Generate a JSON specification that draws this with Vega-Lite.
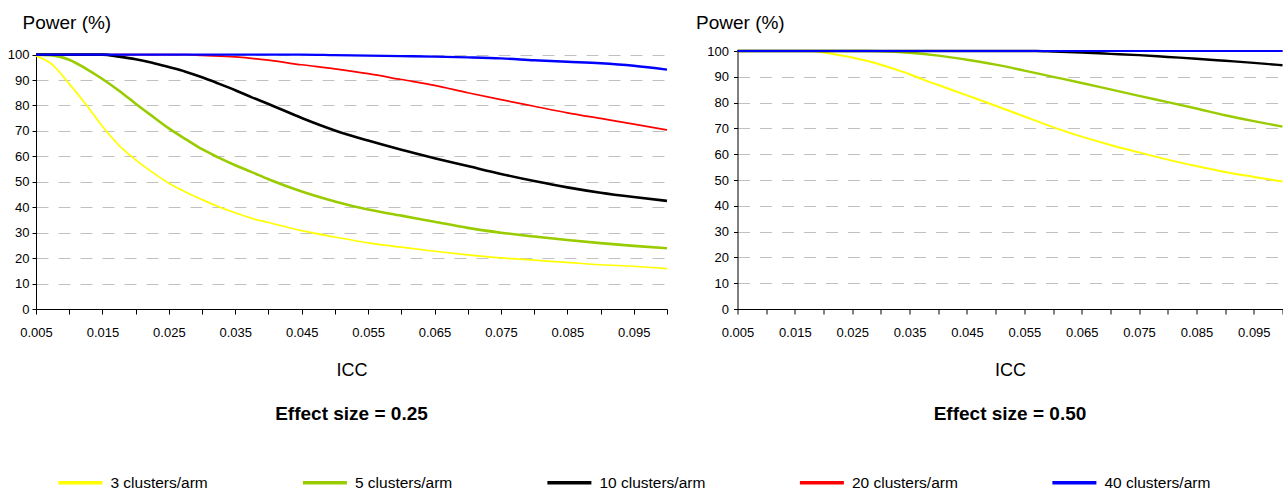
{
  "$schema": "https://vega.github.io/schema/vega-lite/v6.json",
  "background": "white",
  "padding": {"left": 7, "top": 13, "right": 0, "bottom": 0},
  "config": {
    "view": {"stroke": null},
    "font": "Liberation Sans",
    "axis": {"domainColor": "#000000", "tickColor": "#000000", "labelColor": "#000000", "titleColor": "#000000", "labelFont": "Liberation Sans", "titleFont": "Liberation Sans", "titleFontWeight": "normal", "labelFontSize": 13, "domainWidth": 1, "tickWidth": 1, "labelOverlap": false, "labelFlush": false},
    "axisX": {"grid": false, "tickSize": 5, "labelPadding": 12, "titleFontSize": 18, "titlePadding": 22, "labelDx": 3},
    "axisY": {"grid": true, "gridColor": "#c0c0c0", "gridDash": [12, 10], "gridWidth": 1, "tickSize": 4, "labelPadding": 3, "titleFontSize": 19},
    "title": {"fontSize": 19, "fontWeight": "bold", "font": "Liberation Sans", "color": "#000000"}
  },
  "data": {"values": [
    {"effect": "0.25", "series": "3 clusters/arm", "icc": 0.005, "power": 99.5},
    {"effect": "0.25", "series": "3 clusters/arm", "icc": 0.0075, "power": 96},
    {"effect": "0.25", "series": "3 clusters/arm", "icc": 0.01, "power": 88.5},
    {"effect": "0.25", "series": "3 clusters/arm", "icc": 0.0125, "power": 80.5},
    {"effect": "0.25", "series": "3 clusters/arm", "icc": 0.015, "power": 71.8},
    {"effect": "0.25", "series": "3 clusters/arm", "icc": 0.0175, "power": 64.3},
    {"effect": "0.25", "series": "3 clusters/arm", "icc": 0.02, "power": 58.6},
    {"effect": "0.25", "series": "3 clusters/arm", "icc": 0.0225, "power": 53.8},
    {"effect": "0.25", "series": "3 clusters/arm", "icc": 0.025, "power": 49.4},
    {"effect": "0.25", "series": "3 clusters/arm", "icc": 0.0275, "power": 46},
    {"effect": "0.25", "series": "3 clusters/arm", "icc": 0.03, "power": 43},
    {"effect": "0.25", "series": "3 clusters/arm", "icc": 0.0325, "power": 40.2},
    {"effect": "0.25", "series": "3 clusters/arm", "icc": 0.035, "power": 37.8},
    {"effect": "0.25", "series": "3 clusters/arm", "icc": 0.0375, "power": 35.6},
    {"effect": "0.25", "series": "3 clusters/arm", "icc": 0.04, "power": 34},
    {"effect": "0.25", "series": "3 clusters/arm", "icc": 0.045, "power": 30.8},
    {"effect": "0.25", "series": "3 clusters/arm", "icc": 0.05, "power": 28.3},
    {"effect": "0.25", "series": "3 clusters/arm", "icc": 0.055, "power": 26},
    {"effect": "0.25", "series": "3 clusters/arm", "icc": 0.06, "power": 24.3},
    {"effect": "0.25", "series": "3 clusters/arm", "icc": 0.065, "power": 22.7},
    {"effect": "0.25", "series": "3 clusters/arm", "icc": 0.07, "power": 21.3},
    {"effect": "0.25", "series": "3 clusters/arm", "icc": 0.075, "power": 20.1},
    {"effect": "0.25", "series": "3 clusters/arm", "icc": 0.08, "power": 19.2},
    {"effect": "0.25", "series": "3 clusters/arm", "icc": 0.085, "power": 18.3},
    {"effect": "0.25", "series": "3 clusters/arm", "icc": 0.09, "power": 17.4},
    {"effect": "0.25", "series": "3 clusters/arm", "icc": 0.095, "power": 16.8},
    {"effect": "0.25", "series": "3 clusters/arm", "icc": 0.1, "power": 15.9},
    {"effect": "0.25", "series": "5 clusters/arm", "icc": 0.005, "power": 100},
    {"effect": "0.25", "series": "5 clusters/arm", "icc": 0.0075, "power": 99.7},
    {"effect": "0.25", "series": "5 clusters/arm", "icc": 0.01, "power": 98},
    {"effect": "0.25", "series": "5 clusters/arm", "icc": 0.0125, "power": 94.5},
    {"effect": "0.25", "series": "5 clusters/arm", "icc": 0.015, "power": 90.4},
    {"effect": "0.25", "series": "5 clusters/arm", "icc": 0.0175, "power": 85.8},
    {"effect": "0.25", "series": "5 clusters/arm", "icc": 0.02, "power": 80.7},
    {"effect": "0.25", "series": "5 clusters/arm", "icc": 0.0225, "power": 75.8},
    {"effect": "0.25", "series": "5 clusters/arm", "icc": 0.025, "power": 71},
    {"effect": "0.25", "series": "5 clusters/arm", "icc": 0.0275, "power": 66.8},
    {"effect": "0.25", "series": "5 clusters/arm", "icc": 0.03, "power": 62.8},
    {"effect": "0.25", "series": "5 clusters/arm", "icc": 0.0325, "power": 59.5},
    {"effect": "0.25", "series": "5 clusters/arm", "icc": 0.035, "power": 56.5},
    {"effect": "0.25", "series": "5 clusters/arm", "icc": 0.0375, "power": 53.8},
    {"effect": "0.25", "series": "5 clusters/arm", "icc": 0.04, "power": 51},
    {"effect": "0.25", "series": "5 clusters/arm", "icc": 0.045, "power": 46.2},
    {"effect": "0.25", "series": "5 clusters/arm", "icc": 0.05, "power": 42.3},
    {"effect": "0.25", "series": "5 clusters/arm", "icc": 0.055, "power": 39.1},
    {"effect": "0.25", "series": "5 clusters/arm", "icc": 0.06, "power": 36.7},
    {"effect": "0.25", "series": "5 clusters/arm", "icc": 0.065, "power": 34.3},
    {"effect": "0.25", "series": "5 clusters/arm", "icc": 0.07, "power": 31.9},
    {"effect": "0.25", "series": "5 clusters/arm", "icc": 0.075, "power": 30},
    {"effect": "0.25", "series": "5 clusters/arm", "icc": 0.08, "power": 28.5},
    {"effect": "0.25", "series": "5 clusters/arm", "icc": 0.085, "power": 27.1},
    {"effect": "0.25", "series": "5 clusters/arm", "icc": 0.09, "power": 25.9},
    {"effect": "0.25", "series": "5 clusters/arm", "icc": 0.095, "power": 24.8},
    {"effect": "0.25", "series": "5 clusters/arm", "icc": 0.1, "power": 23.9},
    {"effect": "0.25", "series": "10 clusters/arm", "icc": 0.005, "power": 100},
    {"effect": "0.25", "series": "10 clusters/arm", "icc": 0.015, "power": 100},
    {"effect": "0.25", "series": "10 clusters/arm", "icc": 0.0175, "power": 99.2},
    {"effect": "0.25", "series": "10 clusters/arm", "icc": 0.02, "power": 98.2},
    {"effect": "0.25", "series": "10 clusters/arm", "icc": 0.0225, "power": 96.8},
    {"effect": "0.25", "series": "10 clusters/arm", "icc": 0.025, "power": 95.1},
    {"effect": "0.25", "series": "10 clusters/arm", "icc": 0.0275, "power": 93.3},
    {"effect": "0.25", "series": "10 clusters/arm", "icc": 0.03, "power": 91.1},
    {"effect": "0.25", "series": "10 clusters/arm", "icc": 0.0325, "power": 88.6},
    {"effect": "0.25", "series": "10 clusters/arm", "icc": 0.035, "power": 86},
    {"effect": "0.25", "series": "10 clusters/arm", "icc": 0.0375, "power": 83.2},
    {"effect": "0.25", "series": "10 clusters/arm", "icc": 0.04, "power": 80.6},
    {"effect": "0.25", "series": "10 clusters/arm", "icc": 0.045, "power": 75.1},
    {"effect": "0.25", "series": "10 clusters/arm", "icc": 0.05, "power": 70.2},
    {"effect": "0.25", "series": "10 clusters/arm", "icc": 0.055, "power": 66.2},
    {"effect": "0.25", "series": "10 clusters/arm", "icc": 0.06, "power": 62.6},
    {"effect": "0.25", "series": "10 clusters/arm", "icc": 0.065, "power": 59.3},
    {"effect": "0.25", "series": "10 clusters/arm", "icc": 0.07, "power": 56.2},
    {"effect": "0.25", "series": "10 clusters/arm", "icc": 0.075, "power": 53.1},
    {"effect": "0.25", "series": "10 clusters/arm", "icc": 0.08, "power": 50.3},
    {"effect": "0.25", "series": "10 clusters/arm", "icc": 0.085, "power": 47.8},
    {"effect": "0.25", "series": "10 clusters/arm", "icc": 0.09, "power": 45.7},
    {"effect": "0.25", "series": "10 clusters/arm", "icc": 0.095, "power": 44},
    {"effect": "0.25", "series": "10 clusters/arm", "icc": 0.1, "power": 42.5},
    {"effect": "0.25", "series": "20 clusters/arm", "icc": 0.005, "power": 100},
    {"effect": "0.25", "series": "20 clusters/arm", "icc": 0.0275, "power": 100},
    {"effect": "0.25", "series": "20 clusters/arm", "icc": 0.03, "power": 99.7},
    {"effect": "0.25", "series": "20 clusters/arm", "icc": 0.035, "power": 99.1},
    {"effect": "0.25", "series": "20 clusters/arm", "icc": 0.04, "power": 97.8},
    {"effect": "0.25", "series": "20 clusters/arm", "icc": 0.045, "power": 96},
    {"effect": "0.25", "series": "20 clusters/arm", "icc": 0.05, "power": 94.4},
    {"effect": "0.25", "series": "20 clusters/arm", "icc": 0.055, "power": 92.5},
    {"effect": "0.25", "series": "20 clusters/arm", "icc": 0.06, "power": 90.2},
    {"effect": "0.25", "series": "20 clusters/arm", "icc": 0.065, "power": 87.9},
    {"effect": "0.25", "series": "20 clusters/arm", "icc": 0.07, "power": 85},
    {"effect": "0.25", "series": "20 clusters/arm", "icc": 0.075, "power": 82.3},
    {"effect": "0.25", "series": "20 clusters/arm", "icc": 0.08, "power": 79.7},
    {"effect": "0.25", "series": "20 clusters/arm", "icc": 0.085, "power": 77.1},
    {"effect": "0.25", "series": "20 clusters/arm", "icc": 0.09, "power": 74.9},
    {"effect": "0.25", "series": "20 clusters/arm", "icc": 0.095, "power": 72.7},
    {"effect": "0.25", "series": "20 clusters/arm", "icc": 0.1, "power": 70.4},
    {"effect": "0.25", "series": "40 clusters/arm", "icc": 0.005, "power": 100},
    {"effect": "0.25", "series": "40 clusters/arm", "icc": 0.045, "power": 100},
    {"effect": "0.25", "series": "40 clusters/arm", "icc": 0.05, "power": 99.8},
    {"effect": "0.25", "series": "40 clusters/arm", "icc": 0.055, "power": 99.6},
    {"effect": "0.25", "series": "40 clusters/arm", "icc": 0.06, "power": 99.4},
    {"effect": "0.25", "series": "40 clusters/arm", "icc": 0.065, "power": 99.2},
    {"effect": "0.25", "series": "40 clusters/arm", "icc": 0.07, "power": 98.9},
    {"effect": "0.25", "series": "40 clusters/arm", "icc": 0.075, "power": 98.5},
    {"effect": "0.25", "series": "40 clusters/arm", "icc": 0.08, "power": 97.8},
    {"effect": "0.25", "series": "40 clusters/arm", "icc": 0.085, "power": 97.2},
    {"effect": "0.25", "series": "40 clusters/arm", "icc": 0.09, "power": 96.6},
    {"effect": "0.25", "series": "40 clusters/arm", "icc": 0.095, "power": 95.6},
    {"effect": "0.25", "series": "40 clusters/arm", "icc": 0.1, "power": 94.1},
    {"effect": "0.50", "series": "3 clusters/arm", "icc": 0.005, "power": 100},
    {"effect": "0.50", "series": "3 clusters/arm", "icc": 0.0175, "power": 100},
    {"effect": "0.50", "series": "3 clusters/arm", "icc": 0.02, "power": 99.4},
    {"effect": "0.50", "series": "3 clusters/arm", "icc": 0.0225, "power": 98.5},
    {"effect": "0.50", "series": "3 clusters/arm", "icc": 0.025, "power": 97.5},
    {"effect": "0.50", "series": "3 clusters/arm", "icc": 0.0275, "power": 96.2},
    {"effect": "0.50", "series": "3 clusters/arm", "icc": 0.03, "power": 94.7},
    {"effect": "0.50", "series": "3 clusters/arm", "icc": 0.0325, "power": 92.9},
    {"effect": "0.50", "series": "3 clusters/arm", "icc": 0.035, "power": 91},
    {"effect": "0.50", "series": "3 clusters/arm", "icc": 0.0375, "power": 88.8},
    {"effect": "0.50", "series": "3 clusters/arm", "icc": 0.04, "power": 86.8},
    {"effect": "0.50", "series": "3 clusters/arm", "icc": 0.045, "power": 82.8},
    {"effect": "0.50", "series": "3 clusters/arm", "icc": 0.05, "power": 78.8},
    {"effect": "0.50", "series": "3 clusters/arm", "icc": 0.055, "power": 74.6},
    {"effect": "0.50", "series": "3 clusters/arm", "icc": 0.06, "power": 70.5},
    {"effect": "0.50", "series": "3 clusters/arm", "icc": 0.065, "power": 66.8},
    {"effect": "0.50", "series": "3 clusters/arm", "icc": 0.07, "power": 63.6},
    {"effect": "0.50", "series": "3 clusters/arm", "icc": 0.075, "power": 60.7},
    {"effect": "0.50", "series": "3 clusters/arm", "icc": 0.08, "power": 57.9},
    {"effect": "0.50", "series": "3 clusters/arm", "icc": 0.085, "power": 55.4},
    {"effect": "0.50", "series": "3 clusters/arm", "icc": 0.09, "power": 53.1},
    {"effect": "0.50", "series": "3 clusters/arm", "icc": 0.095, "power": 51.2},
    {"effect": "0.50", "series": "3 clusters/arm", "icc": 0.1, "power": 49.4},
    {"effect": "0.50", "series": "5 clusters/arm", "icc": 0.005, "power": 100},
    {"effect": "0.50", "series": "5 clusters/arm", "icc": 0.0275, "power": 100},
    {"effect": "0.50", "series": "5 clusters/arm", "icc": 0.03, "power": 99.9},
    {"effect": "0.50", "series": "5 clusters/arm", "icc": 0.035, "power": 99.3},
    {"effect": "0.50", "series": "5 clusters/arm", "icc": 0.04, "power": 98.2},
    {"effect": "0.50", "series": "5 clusters/arm", "icc": 0.045, "power": 96.6},
    {"effect": "0.50", "series": "5 clusters/arm", "icc": 0.05, "power": 94.7},
    {"effect": "0.50", "series": "5 clusters/arm", "icc": 0.055, "power": 92.4},
    {"effect": "0.50", "series": "5 clusters/arm", "icc": 0.06, "power": 90},
    {"effect": "0.50", "series": "5 clusters/arm", "icc": 0.065, "power": 87.6},
    {"effect": "0.50", "series": "5 clusters/arm", "icc": 0.07, "power": 85.1},
    {"effect": "0.50", "series": "5 clusters/arm", "icc": 0.075, "power": 82.6},
    {"effect": "0.50", "series": "5 clusters/arm", "icc": 0.08, "power": 80.2},
    {"effect": "0.50", "series": "5 clusters/arm", "icc": 0.085, "power": 77.7},
    {"effect": "0.50", "series": "5 clusters/arm", "icc": 0.09, "power": 75.1},
    {"effect": "0.50", "series": "5 clusters/arm", "icc": 0.095, "power": 72.8},
    {"effect": "0.50", "series": "5 clusters/arm", "icc": 0.1, "power": 70.7},
    {"effect": "0.50", "series": "10 clusters/arm", "icc": 0.005, "power": 100},
    {"effect": "0.50", "series": "10 clusters/arm", "icc": 0.057, "power": 100},
    {"effect": "0.50", "series": "10 clusters/arm", "icc": 0.06, "power": 99.8},
    {"effect": "0.50", "series": "10 clusters/arm", "icc": 0.065, "power": 99.4},
    {"effect": "0.50", "series": "10 clusters/arm", "icc": 0.07, "power": 98.9},
    {"effect": "0.50", "series": "10 clusters/arm", "icc": 0.075, "power": 98.4},
    {"effect": "0.50", "series": "10 clusters/arm", "icc": 0.08, "power": 97.7},
    {"effect": "0.50", "series": "10 clusters/arm", "icc": 0.085, "power": 97},
    {"effect": "0.50", "series": "10 clusters/arm", "icc": 0.09, "power": 96.2},
    {"effect": "0.50", "series": "10 clusters/arm", "icc": 0.095, "power": 95.4},
    {"effect": "0.50", "series": "10 clusters/arm", "icc": 0.1, "power": 94.5},
    {"effect": "0.50", "series": "20 clusters/arm", "icc": 0.005, "power": 100},
    {"effect": "0.50", "series": "20 clusters/arm", "icc": 0.1, "power": 100},
    {"effect": "0.50", "series": "40 clusters/arm", "icc": 0.005, "power": 100},
    {"effect": "0.50", "series": "40 clusters/arm", "icc": 0.1, "power": 100}
  ]},
  "resolve": {"scale": {"color": "shared"}},
  "spacing": 22.5,
  "hconcat": [
    {
      "width": 631,
      "height": 258,
      "title": {"text": "Effect size = 0.25", "orient": "bottom", "anchor": "middle", "offset": 26},
      "transform": [{"filter": "datum.effect == '0.25'"}],
      "encoding": {
        "x": {"field": "icc", "type": "quantitative", "scale": {"domain": [0.005, 0.1], "nice": false, "zero": false},
              "axis": {"title": "ICC", "values": [0.005, 0.01, 0.015, 0.02, 0.025, 0.03, 0.035, 0.04, 0.045, 0.05, 0.055, 0.06, 0.065, 0.07, 0.075, 0.08, 0.085, 0.09, 0.095, 0.1],
                       "labelExpr": "(round(datum.value * 1000) % 10 == 5) ? format(datum.value, '.3f') : ''"}},
        "y": {"field": "power", "type": "quantitative", "scale": {"domain": [0, 100], "nice": false, "range": [258, 3.6]},
              "axis": {"title": "Power (%)", "values": [0, 10, 20, 30, 40, 50, 60, 70, 80, 90, 100], "titleAngle": 0, "titleAlign": "left", "titleBaseline": "top", "titleX": -14, "titleY": -38}},
        "color": {"field": "series", "type": "nominal",
                  "scale": {"domain": ["3 clusters/arm", "5 clusters/arm", "10 clusters/arm", "20 clusters/arm", "40 clusters/arm"], "range": ["#FFFF00", "#99CC00", "#000000", "#FF0000", "#0000FF"]},
                  "legend": {"orient": "none", "legendX": 20.4, "legendY": 407.5, "direction": "horizontal", "title": null, "symbolType": "stroke", "symbolSize": 1936, "symbolStrokeWidth": 3.5, "labelFontSize": 15.5, "labelFont": "Liberation Sans", "labelColor": "#000000", "labelOffset": 6, "columnPadding": 87.5, "labelLimit": 300}}
      },
      "layer": [
        {"transform": [{"filter": {"field": "series", "oneOf": ["3 clusters/arm", "20 clusters/arm"]}}], "mark": {"type": "line", "strokeWidth": 1.7, "interpolate": "monotone"}},
        {"transform": [{"filter": {"field": "series", "oneOf": ["5 clusters/arm", "10 clusters/arm"]}}], "mark": {"type": "line", "strokeWidth": 2.6, "interpolate": "monotone"}},
        {"transform": [{"filter": {"field": "series", "oneOf": ["40 clusters/arm"]}}], "mark": {"type": "line", "strokeWidth": 2.4, "interpolate": "monotone"}}
      ]
    },
    {
      "width": 545,
      "height": 258,
      "title": {"text": "Effect size = 0.50", "orient": "bottom", "anchor": "middle", "offset": 26},
      "transform": [{"filter": "datum.effect == '0.50'"}],
      "encoding": {
        "x": {"field": "icc", "type": "quantitative", "scale": {"domain": [0.005, 0.1], "nice": false, "zero": false},
              "axis": {"title": "ICC", "values": [0.005, 0.01, 0.015, 0.02, 0.025, 0.03, 0.035, 0.04, 0.045, 0.05, 0.055, 0.06, 0.065, 0.07, 0.075, 0.08, 0.085, 0.09, 0.095, 0.1],
                       "labelExpr": "(round(datum.value * 1000) % 10 == 5) ? format(datum.value, '.3f') : ''"}},
        "y": {"field": "power", "type": "quantitative", "scale": {"domain": [0, 100], "nice": false},
              "axis": {"title": "Power (%)", "values": [0, 10, 20, 30, 40, 50, 60, 70, 80, 90, 100], "titleAngle": 0, "titleAlign": "left", "titleBaseline": "top", "titleX": -42, "titleY": -38, "labelPadding": 5}},
        "color": {"field": "series", "type": "nominal",
                  "scale": {"domain": ["3 clusters/arm", "5 clusters/arm", "10 clusters/arm", "20 clusters/arm", "40 clusters/arm"], "range": ["#FFFF00", "#99CC00", "#000000", "#FF0000", "#0000FF"]}}
      },
      "layer": [
        {"transform": [{"filter": {"field": "series", "oneOf": ["3 clusters/arm", "20 clusters/arm"]}}], "mark": {"type": "line", "strokeWidth": 2, "interpolate": "monotone"}},
        {"transform": [{"filter": {"field": "series", "oneOf": ["5 clusters/arm", "10 clusters/arm"]}}], "mark": {"type": "line", "strokeWidth": 2.4, "interpolate": "monotone"}},
        {"transform": [{"filter": {"field": "series", "oneOf": ["40 clusters/arm"]}}], "mark": {"type": "line", "strokeWidth": 2, "interpolate": "monotone"}}
      ]
    }
  ]
}
